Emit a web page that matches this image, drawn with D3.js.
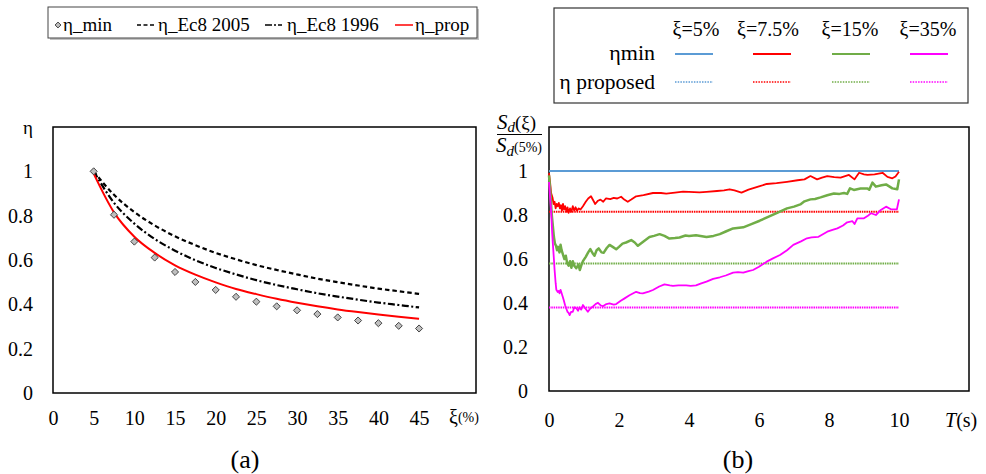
<!DOCTYPE html>
<html>
<head>
<meta charset="utf-8">
<script src="https://cdn.jsdelivr.net/npm/d3@7"></script>
<style>
  html, body { margin: 0; padding: 0; background: #fff; }
</style>
</head>
<body>
<svg id="chart" width="986" height="474"></svg>
<script>
// ---------- (a) damping correction factor vs damping ratio ----------
const xiValues = [5, 7.5, 10, 12.5, 15, 17.5, 20, 22.5, 25, 27.5, 30, 32.5, 35, 37.5, 40, 42.5, 45];
const etaMin = [1, 0.804, 0.683, 0.611, 0.546, 0.501, 0.465, 0.434, 0.412, 0.391, 0.373, 0.356, 0.341, 0.327, 0.315, 0.303, 0.291];
const etaEc8_2005 = [1, 0.894, 0.816, 0.756, 0.707, 0.667, 0.632, 0.603, 0.577, 0.555, 0.535, 0.516, 0.5, 0.485, 0.471, 0.459, 0.447];
const etaEc8_1996 = [1, 0.858, 0.764, 0.695, 0.642, 0.599, 0.564, 0.535, 0.509, 0.487, 0.468, 0.450, 0.435, 0.421, 0.408, 0.397, 0.386];
const etaProp = [0.99, 0.815, 0.705, 0.632, 0.576, 0.534, 0.499, 0.469, 0.446, 0.425, 0.407, 0.391, 0.377, 0.365, 0.354, 0.344, 0.335];
const xTicksA = [0, 5, 10, 15, 20, 25, 30, 35, 40, 45];
const yTicks = [0, 0.2, 0.4, 0.6, 0.8, 1];

// ---------- (b) spectral displacement ratio vs period ----------
const periodCategories = ["ξ=5%", "ξ=7.5%", "ξ=15%", "ξ=35%"];
const etaProposed = [1, 0.815, 0.58, 0.38];
const tBlue = [0, 10];
const minBlue = [1, 1];
const tRed = [0, 0.03, 0.06, 0.1, 0.13, 0.16, 0.19, 0.22, 0.25, 0.28, 0.31, 0.34, 0.37, 0.4, 0.43, 0.46, 0.5, 0.53, 0.56, 0.6, 0.64, 0.68, 0.72, 0.76, 0.8, 0.85, 0.9, 0.97, 1.05, 1.12, 1.2, 1.27, 1.32, 1.4, 1.47, 1.55, 1.63, 1.75, 1.85, 1.95, 2.06, 2.15, 2.25, 2.35, 2.49, 2.7, 2.97, 3.2, 3.35, 3.6, 3.83, 4.0, 4.3, 4.5, 4.8, 5.0, 5.16, 5.3, 5.5, 5.7, 6.0, 6.22, 6.5, 6.8, 7.1, 7.3, 7.47, 7.66, 7.8, 7.95, 8.15, 8.33, 8.57, 8.73, 8.86, 9.0, 9.1, 9.3, 9.53, 9.67, 9.81, 9.9, 10];
const minRed = [0.99, 0.95, 0.90, 0.88, 0.85, 0.86, 0.83, 0.85, 0.84, 0.855, 0.83, 0.845, 0.82, 0.85, 0.825, 0.84, 0.815, 0.835, 0.81, 0.83, 0.815, 0.84, 0.82, 0.835, 0.82, 0.83, 0.825, 0.84, 0.86, 0.875, 0.885, 0.865, 0.85, 0.865, 0.87, 0.86, 0.876, 0.872, 0.878, 0.875, 0.883, 0.87, 0.86, 0.87, 0.885, 0.89, 0.9, 0.9, 0.897, 0.902, 0.906, 0.905, 0.903, 0.905, 0.909, 0.912, 0.917, 0.912, 0.902, 0.915, 0.93, 0.941, 0.945, 0.951, 0.958, 0.962, 0.977, 0.962, 0.97, 0.977, 0.972, 0.97, 0.982, 0.962, 0.992, 0.985, 0.982, 0.985, 0.992, 0.973, 0.967, 0.975, 0.997];
const tGreen = [0, 0.04, 0.08, 0.11, 0.14, 0.17, 0.2, 0.23, 0.26, 0.3, 0.33, 0.36, 0.4, 0.44, 0.48, 0.52, 0.56, 0.6, 0.64, 0.68, 0.72, 0.78, 0.84, 0.88, 0.93, 0.97, 1.05, 1.12, 1.18, 1.25, 1.3, 1.36, 1.42, 1.5, 1.56, 1.65, 1.73, 1.82, 1.92, 2.0, 2.1, 2.2, 2.35, 2.45, 2.54, 2.7, 2.87, 3.0, 3.16, 3.3, 3.44, 3.6, 3.73, 3.9, 4.0, 4.2, 4.5, 4.7, 4.88, 5.05, 5.26, 5.55, 5.8, 6.02, 6.31, 6.55, 6.8, 7.0, 7.18, 7.3, 7.47, 7.6, 7.76, 7.95, 8.14, 8.3, 8.43, 8.52, 8.6, 8.71, 8.9, 9.1, 9.15, 9.24, 9.34, 9.5, 9.63, 9.72, 9.81, 9.95, 10];
const minGreen = [0.98, 0.9, 0.8, 0.75, 0.7, 0.67, 0.66, 0.64, 0.655, 0.63, 0.665, 0.64, 0.62, 0.6, 0.615, 0.58, 0.57, 0.59, 0.56, 0.59, 0.57, 0.558, 0.575, 0.55, 0.575, 0.59, 0.61, 0.63, 0.645, 0.625, 0.615, 0.64, 0.648, 0.63, 0.628, 0.65, 0.664, 0.655, 0.644, 0.655, 0.67, 0.675, 0.686, 0.675, 0.66, 0.68, 0.7, 0.705, 0.713, 0.705, 0.693, 0.695, 0.698, 0.707, 0.705, 0.708, 0.7, 0.705, 0.713, 0.725, 0.739, 0.744, 0.76, 0.774, 0.795, 0.812, 0.83, 0.838, 0.848, 0.862, 0.871, 0.873, 0.88, 0.89, 0.898, 0.896, 0.9, 0.896, 0.921, 0.914, 0.92, 0.921, 0.915, 0.947, 0.929, 0.935, 0.939, 0.93, 0.921, 0.917, 0.962];
const tMagenta = [0, 0.03, 0.06, 0.09, 0.11, 0.14, 0.16, 0.19, 0.21, 0.25, 0.28, 0.3, 0.33, 0.35, 0.39, 0.42, 0.46, 0.49, 0.53, 0.56, 0.59, 0.63, 0.68, 0.72, 0.78, 0.83, 0.87, 0.92, 0.97, 1.04, 1.11, 1.18, 1.25, 1.33, 1.4, 1.47, 1.54, 1.64, 1.73, 1.85, 1.92, 2.05, 2.16, 2.3, 2.49, 2.6, 2.68, 2.85, 2.97, 3.15, 3.3, 3.45, 3.54, 3.7, 3.92, 4.05, 4.2, 4.35, 4.5, 4.69, 4.88, 5.05, 5.26, 5.4, 5.55, 5.7, 5.83, 6.0, 6.22, 6.4, 6.6, 6.8, 6.98, 7.2, 7.37, 7.5, 7.7, 7.95, 8.1, 8.24, 8.4, 8.52, 8.67, 8.73, 8.81, 9.0, 9.1, 9.2, 9.34, 9.48, 9.63, 9.77, 9.94, 10];
const minMagenta = [0.95, 0.88, 0.82, 0.72, 0.67, 0.6, 0.55, 0.49, 0.46, 0.45, 0.455, 0.444, 0.46, 0.45, 0.43, 0.414, 0.39, 0.376, 0.36, 0.355, 0.345, 0.36, 0.36, 0.38, 0.376, 0.365, 0.38, 0.37, 0.391, 0.375, 0.36, 0.375, 0.383, 0.395, 0.401, 0.39, 0.385, 0.395, 0.398, 0.393, 0.395, 0.41, 0.421, 0.435, 0.451, 0.445, 0.444, 0.452, 0.459, 0.475, 0.485, 0.48, 0.478, 0.48, 0.48, 0.478, 0.48, 0.489, 0.497, 0.51, 0.517, 0.525, 0.538, 0.54, 0.538, 0.545, 0.55, 0.565, 0.588, 0.603, 0.618, 0.64, 0.664, 0.68, 0.694, 0.698, 0.701, 0.724, 0.732, 0.739, 0.752, 0.767, 0.772, 0.759, 0.785, 0.785, 0.795, 0.808, 0.8, 0.823, 0.838, 0.826, 0.826, 0.871];
const xTicksB = [0, 2, 4, 6, 8, 10];
const seriesColors = ["#5B9BD5", "#FF0000", "#70AD47", "#FF00FF"];

const SERIF = '"Liberation Serif"';
const svg = d3.select("#chart");
const serif = sel => sel.style("font-family", SERIF).attr("fill", "#000");
const plainNum = d => String(d);

// ===== Panel (a) =====
const ax = d3.scaleLinear().domain([0, 52]).range([53, 476]);
const ay = d3.scaleLinear().domain([0, 1.2]).range([393, 127]);
const gA = svg.append("g");

gA.append("rect").attr("x", ax(0)).attr("y", ay(1.2))
  .attr("width", ax(52) - ax(0)).attr("height", ay(0) - ay(1.2))
  .attr("fill", "none").attr("stroke", "#000").attr("stroke-width", 1.5);

gA.append("g").call(d3.axisBottom(ax).tickValues(xTicksA).tickSize(0).tickPadding(0).tickFormat(plainNum))
  .call(g => g.select(".domain").remove())
  .selectAll("text").attr("y", 418).attr("dy", "0.35em").attr("font-size", 20).call(serif);

gA.append("g").attr("transform", "translate(33,0)")
  .call(d3.axisLeft(ay).tickValues(yTicks).tickSize(0).tickPadding(0).tickFormat(plainNum))
  .call(g => g.select(".domain").remove())
  .selectAll("text").attr("x", 0).attr("font-size", 20).call(serif);

gA.append("text").attr("x", 28).attr("y", 134).attr("text-anchor", "middle")
  .attr("font-size", 19).call(serif).text("η");
const xiLab = gA.append("text").attr("x", 449).attr("y", 424).attr("font-size", 20).call(serif);
xiLab.append("tspan").text("ξ");
xiLab.append("tspan").attr("font-size", 14).attr("dy", -2).text("(%)");

const lineA = d3.line().x(d => ax(d[0])).y(d => ay(d[1])).curve(d3.curveMonotoneX);
const zipA = arr => xiValues.map((x, i) => [x, arr[i]]);

gA.append("path").attr("d", lineA(zipA(etaEc8_2005)))
  .attr("fill", "none").attr("stroke", "#000").attr("stroke-width", 2.2)
  .attr("stroke-dasharray", "4.5,3");
gA.append("path").attr("d", lineA(zipA(etaEc8_1996)))
  .attr("fill", "none").attr("stroke", "#000").attr("stroke-width", 2.2)
  .attr("stroke-dasharray", "7,2.5,2,2.5");
gA.append("path").attr("d", lineA(zipA(etaProp)))
  .attr("fill", "none").attr("stroke", "#FF0000").attr("stroke-width", 2);

const diamond = d3.symbol().type(d3.symbolDiamond2).size(32);
gA.selectAll("path.dm").data(zipA(etaMin)).join("path").attr("class", "dm")
  .attr("transform", d => `translate(${ax(d[0])},${ay(d[1])})`)
  .attr("d", diamond).attr("fill", "#BFBFBF").attr("stroke", "#333").attr("stroke-width", 0.9);

// legend (a)
const legA = svg.append("g");
legA.append("rect").attr("x", 50).attr("y", 9).attr("width", 429).attr("height", 31)
  .attr("fill", "#999").attr("opacity", 0.6);
legA.append("rect").attr("x", 48).attr("y", 7).attr("width", 429).attr("height", 31)
  .attr("fill", "#fff").attr("stroke", "#444").attr("stroke-width", 1);
legA.append("path").attr("transform", "translate(58,25)")
  .attr("d", d3.symbol().type(d3.symbolDiamond2).size(22))
  .attr("fill", "#BFBFBF").attr("stroke", "#333").attr("stroke-width", 0.9);
legA.append("line").attr("x1", 137).attr("x2", 154).attr("y1", 25).attr("y2", 25)
  .attr("stroke", "#000").attr("stroke-width", 1.5).attr("stroke-dasharray", "4,2.5");
legA.append("line").attr("x1", 265).attr("x2", 285).attr("y1", 25).attr("y2", 25)
  .attr("stroke", "#000").attr("stroke-width", 1.5).attr("stroke-dasharray", "7,2,2,2,4");
legA.append("line").attr("x1", 395).attr("x2", 413).attr("y1", 25).attr("y2", 25)
  .attr("stroke", "#FF0000").attr("stroke-width", 1.5);
const legATexts = [[63, "η_min"], [158, "η_Ec8 2005"], [287, "η_Ec8 1996"], [415, "η_prop"]];
legA.selectAll("text").data(legATexts).join("text")
  .attr("x", d => d[0]).attr("y", 31).attr("font-size", 19).call(serif).text(d => d[1]);

// ===== Panel (b) =====
const bx = d3.scaleLinear().domain([0, 12]).range([549, 969]);
const by = d3.scaleLinear().domain([0, 1.2]).range([391, 127]);
const gB = svg.append("g");

gB.append("rect").attr("x", bx(0)).attr("y", by(1.2))
  .attr("width", bx(12) - bx(0)).attr("height", by(0) - by(1.2))
  .attr("fill", "none").attr("stroke", "#000").attr("stroke-width", 1.5);

gB.append("g").call(d3.axisBottom(bx).tickValues(xTicksB).tickSize(0).tickPadding(0).tickFormat(plainNum))
  .call(g => g.select(".domain").remove())
  .selectAll("text").attr("y", 420).attr("dy", "0.35em").attr("font-size", 20).call(serif);

gB.append("g").attr("transform", "translate(528,0)")
  .call(d3.axisLeft(by).tickValues(yTicks).tickSize(0).tickPadding(0).tickFormat(plainNum))
  .call(g => g.select(".domain").remove())
  .selectAll("text").attr("x", 0).attr("font-size", 20).call(serif);

const tLab = gB.append("text").attr("x", 945).attr("y", 427).attr("font-size", 20).call(serif);
tLab.append("tspan").attr("font-style", "italic").text("T");
tLab.append("tspan").text("(s)");

// fraction label Sd(ξ)/Sd(5%)
const num = gB.append("text").attr("x", 497).attr("y", 129).attr("font-size", 21).call(serif);
num.append("tspan").attr("font-style", "italic").text("S");
num.append("tspan").attr("font-style", "italic").attr("font-size", 15).attr("dy", 3).text("d");
num.append("tspan").attr("dy", -3).attr("font-size", 19).text("(ξ)");
gB.append("line").attr("x1", 497).attr("x2", 542).attr("y1", 134.5).attr("y2", 134.5)
  .attr("stroke", "#000").attr("stroke-width", 1.2);
const den = gB.append("text").attr("x", 496).attr("y", 152).attr("font-size", 21).call(serif);
den.append("tspan").attr("font-style", "italic").text("S");
den.append("tspan").attr("font-style", "italic").attr("font-size", 15).attr("dy", 4).text("d");
den.append("tspan").attr("dy", -4).attr("font-size", 14).text("(5%)");

const lineB = d3.line().x(d => bx(d[0])).y(d => by(d[1]));
const zipB = (ts, vs) => ts.map((t, i) => [t, vs[i]]);

// proposed factors (dotted, constant over the period range)
etaProposed.forEach((v, i) => {
  gB.append("path").attr("d", lineB([[0, v], [10, v]]))
    .attr("fill", "none").attr("stroke", seriesColors[i]).attr("stroke-width", 2)
    .attr("stroke-dasharray", "1.5,0.8");
});

const minSeries = [[tBlue, minBlue, 2.2], [tRed, minRed, 1.8], [tGreen, minGreen, 2.5], [tMagenta, minMagenta, 1.8]];
minSeries.forEach((s, i) => {
  gB.append("path").attr("d", lineB(zipB(s[0], s[1])))
    .attr("fill", "none").attr("stroke", seriesColors[i]).attr("stroke-width", s[2])
    .attr("stroke-linejoin", "round");
});

// legend (b)
const legB = svg.append("g");
legB.append("rect").attr("x", 554).attr("y", 8).attr("width", 414).attr("height", 95)
  .attr("fill", "#fff").attr("stroke", "#333").attr("stroke-width", 1.2);
const headX = [696, 768, 850, 928];
const swX = [675, 753, 832, 910];
legB.selectAll("text.hd").data(periodCategories).join("text").attr("class", "hd")
  .attr("x", (d, i) => headX[i]).attr("y", 36).attr("text-anchor", "middle")
  .attr("font-size", 20).call(serif).text(d => d);
legB.append("text").attr("x", 655).attr("y", 60).attr("text-anchor", "end")
  .attr("font-size", 22).call(serif).text("ηmin");
legB.append("text").attr("x", 655).attr("y", 89).attr("text-anchor", "end")
  .attr("font-size", 21.5).call(serif).text("η proposed");
seriesColors.forEach((c, i) => {
  legB.append("line").attr("x1", swX[i]).attr("x2", swX[i] + 38).attr("y1", 54).attr("y2", 54)
    .attr("stroke", c).attr("stroke-width", 2);
  legB.append("line").attr("x1", swX[i]).attr("x2", swX[i] + 38).attr("y1", 82).attr("y2", 82)
    .attr("stroke", c).attr("stroke-width", 1.5).attr("stroke-dasharray", "1.5,1.2");
});

// panel captions
svg.append("text").attr("x", 245).attr("y", 468).attr("text-anchor", "middle")
  .attr("font-size", 26).call(serif).text("(a)");
svg.append("text").attr("x", 738).attr("y", 468).attr("text-anchor", "middle")
  .attr("font-size", 26).call(serif).text("(b)");
</script>
</body>
</html>
